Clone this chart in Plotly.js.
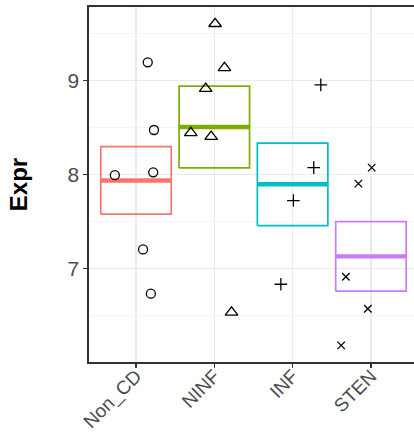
<!DOCTYPE html>
<html>
<head>
<meta charset="utf-8">
<script src="https://cdn.plot.ly/plotly-3.0.1.min.js"></script>
<style>html,body{margin:0;padding:0;background:#fff;}#chart{width:414px;height:434px;}</style>
</head>
<body>
<div id="chart"></div>
<script>
// Data
const categories = ["Non_CD", "NINF", "INF", "STEN"];
const nonCD = [9.19, 8.47, 7.99, 8.02, 7.20, 6.73];
const ninf  = [9.60, 9.13, 8.91, 8.44, 8.40, 6.53];
const inf   = [8.95, 8.07, 7.72, 6.83];
const sten  = [8.07, 7.90, 6.91, 6.57, 6.18];
// horizontal jitter offsets (category units)
const jitNonCD = [0.15, 0.23, -0.27, 0.22, 0.09, 0.19];
const jitNinf  = [0.01, 0.13, -0.11, -0.30, -0.04, 0.22];
const jitInf   = [0.36, 0.27, 0.01, -0.15];
const jitSten  = [0.01, -0.16, -0.32, -0.04, -0.38];
const yTicks = [7, 8, 9];

const groups = [nonCD, ninf, inf, sten];
const jitters = [jitNonCD, jitNinf, jitInf, jitSten];
const colors = ["#F8766D", "#7CAE00", "#00BFC4", "#C77CFF"];
const symbols = ["circle-open", "triangle-up-open", "cross-thin-open", "x-thin-open"];
const sizes = [9, 11, 9, 7.5];
const halfW = 0.45;

function meanSE(a) {
  const n = a.length;
  const m = a.reduce((s, v) => s + v, 0) / n;
  const sd = Math.sqrt(a.reduce((s, v) => s + (v - m) * (v - m), 0) / (n - 1));
  return [m, sd / Math.sqrt(n)];
}

const traces = [];
groups.forEach((vals, i) => {
  const [m, se] = meanSE(vals);
  const lo = m - se, hi = m + se;
  traces.push({
    x: [i - halfW, i + halfW, i + halfW, i - halfW, i - halfW],
    y: [lo, lo, hi, hi, lo],
    mode: "lines", type: "scatter",
    line: {color: colors[i], width: 1.7},
    hoverinfo: "skip", showlegend: false
  });
  traces.push({
    x: [i - halfW, i + halfW],
    y: [m, m],
    mode: "lines", type: "scatter",
    line: {color: colors[i], width: 4.4},
    hoverinfo: "skip", showlegend: false
  });
});
groups.forEach((vals, i) => {
  traces.push({
    x: vals.map((v, k) => i + jitters[i][k]),
    y: vals,
    mode: "markers", type: "scatter",
    marker: {symbol: symbols[i], size: sizes[i], color: "#000000", line: {color: "#000000", width: 1.3}},
    showlegend: false
  });
});

const font = "Liberation Sans, Arial, sans-serif";
const layout = {
  width: 414, height: 434,
  margin: {l: 89, r: 0, t: 7, b: 72},
  paper_bgcolor: "#ffffff", plot_bgcolor: "#ffffff",
  showlegend: false,
  xaxis: {
    range: [-0.6, 3.55],
    tickmode: "array", tickvals: [0, 1, 2, 3], ticktext: categories,
    tickangle: -45,
    tickfont: {family: font, size: 19, color: "#4D4D4D"},
    ticks: "outside", ticklen: 4, tickwidth: 1.3, tickcolor: "#333333",
    ticklabelstandoff: -10,
    showgrid: true, gridcolor: "#EBEBEB", gridwidth: 1.3,
    showline: true, linecolor: "#333333", linewidth: 1.6, mirror: true,
    zeroline: false, fixedrange: true
  },
  yaxis: {
    range: [6.003, 9.778],
    tickmode: "array", tickvals: yTicks, ticktext: yTicks.map(String),
    tickfont: {family: font, size: 21, color: "#4D4D4D"},
    ticks: "outside", ticklen: 4, tickwidth: 1.3, tickcolor: "#333333",
    showgrid: true, gridcolor: "#EBEBEB", gridwidth: 1.3,
    minor: {tickmode: "linear", dtick: 0.5, tick0: 6, showgrid: true, gridcolor: "#F2F2F2", gridwidth: 0.8, ticks: ""},
    showline: true, linecolor: "#333333", linewidth: 1.6, mirror: false,
    zeroline: false, fixedrange: true,
    title: {text: "<b>Expr</b>", font: {family: font, size: 24, color: "#000000"}, standoff: 33}
  }
};

Plotly.newPlot("chart", traces, layout, {staticPlot: true, displayModeBar: false});
</script>
</body>
</html>
